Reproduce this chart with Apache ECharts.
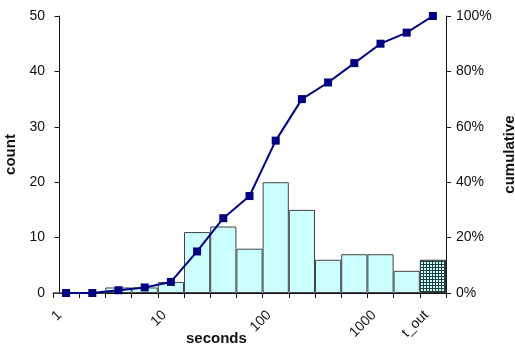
<!DOCTYPE html>
<html>
<head>
<meta charset="utf-8">
<script src="https://cdn.jsdelivr.net/npm/echarts@6/dist/echarts.min.js"></script>
<style>
  html, body { margin: 0; padding: 0; background: #fff; }
  #chart { width: 515px; height: 346px; }
</style>
</head>
<body>
<div id="chart"></div>
<script>
// histogram bins (log-spaced seconds), last bin is the time-out bucket
const bins = ['b1', 'b2', 'b3', 'b4', 'b5', 'b6', 'b7', 'b8', 'b9', 'b10', 'b11', 'b12', 'b13', 'b14', 't_out']
const counts = [0, 0, 1, 1, 2, 11, 12, 8, 20, 15, 6, 7, 7, 4, 6]
const cumulative = [0, 0, 1, 2, 4, 15, 27, 35, 55, 70, 76, 83, 90, 94, 100]
// labels sitting on bin edges
const edgeLabels = { 0: '1', 4: '10', 8: '100', 12: '1000', 14: 't_out' }

// hatched pattern for the time-out bar
const pat = document.createElement('canvas')
pat.width = 3
pat.height = 3
const ctx = pat.getContext('2d')
ctx.fillStyle = '#ccffff'
ctx.fillRect(0, 0, 3, 3)
ctx.fillStyle = '#1f3f3f'
ctx.fillRect(0, 0, 3, 1)
ctx.fillRect(0, 0, 1, 3)

const font = 'Liberation Sans'
const ink = '#111'
const chart = echarts.init(document.getElementById('chart'))
chart.setOption({
  animation: false,
  textStyle: { fontFamily: font },
  title: {
    text: 'seconds',
    left: 181,
    top: 326,
    textStyle: { fontFamily: font, fontSize: 15, fontWeight: 'bold', color: ink }
  },
  grid: { left: 53, right: 69, top: 16, bottom: 53, outerBoundsMode: 'none', containLabel: false },
  xAxis: [
    {
      type: 'category',
      data: bins,
      axisLine: { lineStyle: { color: ink, width: 1 } },
      axisTick: { show: true, interval: 0, length: 5, lineStyle: { color: ink } },
      axisLabel: { show: false }
    },
    {
      // label-only axis, nudged a quarter bin so rotated labels end just past the edge
      type: 'value',
      min: -0.25,
      max: 14.75,
      interval: 0.25,
      position: 'bottom',
      axisLine: { show: false },
      axisTick: { show: false },
      splitLine: { show: false },
      axisLabel: {
        rotate: 45,
        margin: 20,
        fontSize: 14,
        color: ink,
        fontFamily: font,
        formatter: v => edgeLabels[v] || ''
      }
    }
  ],
  yAxis: [
    {
      type: 'value',
      min: 0,
      max: 50,
      interval: 10,
      name: 'count',
      nameLocation: 'middle',
      nameGap: 30,
      nameRotate: 90,
      nameTextStyle: { fontSize: 15, fontWeight: 'bold', color: ink, fontFamily: font },
      axisLine: { show: true, lineStyle: { color: ink } },
      axisTick: { show: true, length: 5, lineStyle: { color: ink } },
      axisLabel: { fontSize: 14, color: ink, margin: 8 },
      splitLine: { show: false }
    },
    {
      type: 'value',
      min: 0,
      max: 100,
      interval: 20,
      name: 'cumulative',
      nameLocation: 'middle',
      nameGap: 43,
      nameRotate: 90,
      nameTextStyle: { fontSize: 15, fontWeight: 'bold', color: ink, fontFamily: font },
      axisLine: { show: true, lineStyle: { color: ink } },
      axisTick: { show: true, length: 5, lineStyle: { color: ink } },
      axisLabel: { fontSize: 14, color: ink, margin: 10, formatter: '{value}%' },
      splitLine: { show: false }
    }
  ],
  series: [
    {
      type: 'bar',
      xAxisIndex: 0,
      yAxisIndex: 0,
      barCategoryGap: 0,
      data: counts.map((c, i) => i === counts.length - 1
        ? { value: c, itemStyle: { color: { image: pat, repeat: 'repeat' }, borderColor: '#333' } }
        : c),
      itemStyle: { color: '#ccffff', borderColor: '#444', borderWidth: 1 }
    },
    {
      type: 'line',
      xAxisIndex: 0,
      yAxisIndex: 1,
      data: cumulative,
      symbol: 'rect',
      symbolSize: 8,
      lineStyle: { color: '#000080', width: 2 },
      itemStyle: { color: '#000080' }
    }
  ]
})
</script>
</body>
</html>
